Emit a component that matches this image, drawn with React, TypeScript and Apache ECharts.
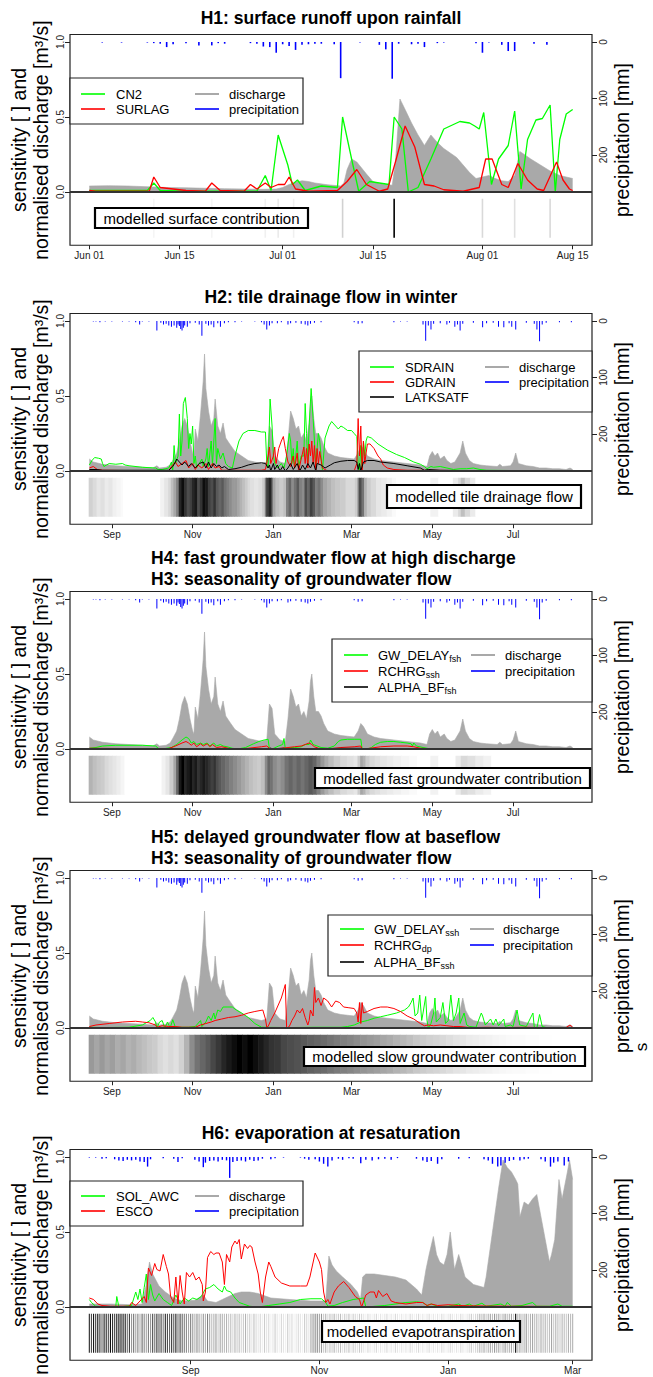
import React, { useEffect, useRef } from 'react';
import * as echarts from 'echarts';

// ===================== Panel 1 (x = days since 1 Jun) =====================
const p1Ticks = [0, 14, 30, 44, 61, 75];
const p1TickLabels = ['Jun 01', 'Jun 15', 'Jul 01', 'Jul 15', 'Aug 01', 'Aug 15'];
const p1Precip = [[2,1],[5,1],[9,1],[10,2],[11,3],[12,9],[13,4],[15,2],[17,6],[19,6],[20,2],[21,3],[25,2],[26,3],[27,8],[28,9],[29,19],[30,4],[31,7],[32,14],[33,5],[34,4],[35,3],[36,3],[38,4],[39,64],[42,1],[45,5],[46,13],[47,65],[48,3],[50,4],[51,3],[52,9],[54,2],[55,1],[60,2],[61,19],[62,1],[64,5],[65,16],[66,16],[69,3],[71,5]];
const p1Discharge = [[0,0.04],[3,0.042],[6,0.04],[9,0.035],[12,0.03],[15,0.028],[18,0.025],[21,0.022],[24,0.02],[27,0.018],[29,0.02],[30,0.03],[31,0.05],[32,0.065],[33,0.075],[34,0.07],[35,0.06],[37,0.048],[39,0.04],[39.5,0.06],[40,0.15],[40.7,0.22],[41.5,0.2],[43,0.12],[44,0.07],[45,0.055],[46,0.05],[47,0.045],[47.5,0.2],[48.2,0.62],[49,0.55],[50,0.46],[51,0.38],[52,0.31],[53,0.38],[54,0.33],[55,0.29],[56,0.26],[57,0.23],[58,0.18],[59,0.13],[60,0.09],[61,0.1],[62,0.11],[63,0.09],[64,0.075],[65,0.07],[66,0.11],[66.8,0.27],[67.5,0.25],[68.5,0.22],[70,0.18],[71.5,0.14],[73,0.11],[75,0.09]];
const p1CN2 = [[0,0.01],[9,0.01],[10,0.06],[11,0.01],[15,0.005],[20,0.005],[26,0.005],[27.3,0.11],[28.2,0.01],[29.3,0.38],[30.8,0.18],[31.5,0.05],[32.3,0.08],[33.5,0.01],[36,0.04],[38.5,0.03],[39.3,0.5],[40.8,0.2],[41.8,0.005],[43.5,0.07],[45,0.06],[46.5,0.05],[47.3,0.5],[48.5,0.42],[49.5,0.0],[51,0.03],[53,0.22],[55,0.42],[57.5,0.47],[59,0.46],[59.8,0.44],[60.5,0.42],[61.2,0.53],[62.4,0.05],[63.5,0.22],[65,0.31],[66,0.54],[67,0.02],[68,0.35],[69.3,0.48],[70.3,0.49],[71.5,0.58],[72.3,0.0],[73,0.35],[74,0.52],[75,0.55]];
const p1SURLAG = [[0,0.01],[1,0.005],[9.3,0.005],[10,0.1],[11,0.03],[13,0.02],[15,0.01],[18,0.005],[19,0.06],[20.3,0.01],[24,0.005],[25,0.05],[26,0.02],[27.3,0.06],[28.2,0.03],[29.3,0.05],[30.3,0.05],[31,0.1],[32,0.02],[34,0.005],[38.5,0.01],[40,0.07],[41.5,0.15],[43,0.05],[45,0.005],[46.3,0.02],[47.5,0.2],[49,0.44],[50.5,0.3],[52,0.05],[53.5,0.04],[55,0.015],[58,0.005],[60.5,0.03],[61.5,0.22],[62.5,0.22],[64,0.05],[65,0.03],[66.5,0.19],[68,0.08],[69.5,0.02],[70.5,0.01],[72.5,0.2],[73.5,0.08],[74.5,0.02],[75,0.01]];
const p1Band = [[10,0.04],[19,0.04],[27.3,0.06],[29.3,0.08],[31.7,0.06],[39.3,0.18],[47.3,1.0],[61,0.15],[66,0.12],[71.5,0.15]];

// ============ Panels 2-4 (x = days since 15 Aug, one hydrological year) ============
const yearTicks = [17, 78, 139, 198, 259, 320];
const yearTickLabels = ['Sep', 'Nov', 'Jan', 'Mar', 'May', 'Jul'];
const yearPrecip = [[3,1],[5,1],[8,2],[12,1],[17,1],[25,1],[30,1],[35,2],[38,6],[40,1],[45,1],[51,17],[54,3],[56,6],[58,5],[60,8],[62,10],[64,8],[66,12],[67,6],[68,9],[69,14],[70,17],[71,12],[72,8],[74,10],[76,4],[80,3],[83,6],[85,26],[88,5],[90,8],[92,6],[94,11],[97,4],[99,10],[102,4],[105,2],[110,2],[115,1],[125,1],[130,2],[132,6],[134,15],[136,8],[138,4],[142,4],[145,2],[150,6],[152,4],[156,3],[160,5],[163,6],[165,8],[167,5],[170,3],[175,2],[200,2],[203,5],[206,4],[230,2],[235,1],[240,1],[252,6],[254,35],[256,8],[258,15],[260,5],[265,4],[270,6],[272,3],[276,10],[278,6],[280,17],[282,5],[290,3],[297,11],[300,4],[305,3],[309,10],[313,11],[317,4],[319,10],[322,15],[330,3],[336,5],[338,15],[340,36],[342,6],[345,3],[355,2],[364,2]];
const yearDischarge = [[0,0.08],[3,0.06],[10,0.045],[20,0.035],[30,0.03],[40,0.025],[48,0.02],[51,0.035],[53,0.02],[58,0.025],[61,0.04],[63,0.07],[66,0.12],[68,0.2],[70,0.3],[72,0.35],[74,0.3],[76,0.2],[78,0.12],[79,0.1],[80,0.28],[82,0.2],[84,0.38],[86,0.6],[87,0.78],[88,0.55],[90,0.4],[92,0.3],[94,0.35],[95,0.48],[97,0.3],[99,0.25],[101,0.32],[103,0.22],[106,0.18],[110,0.13],[115,0.1],[120,0.07],[125,0.06],[130,0.05],[134,0.06],[136,0.3],[138,0.27],[140,0.1],[144,0.06],[148,0.05],[150,0.2],[152,0.4],[154,0.35],[156,0.28],[158,0.3],[160,0.22],[162,0.25],[164,0.2],[166,0.32],[167,0.45],[168,0.5],[169.5,0.35],[171,0.25],[173,0.25],[175,0.22],[177,0.17],[180,0.12],[185,0.1],[190,0.09],[195,0.085],[200,0.08],[203,0.12],[205,0.17],[207,0.15],[210,0.1],[215,0.08],[220,0.07],[230,0.06],[240,0.05],[250,0.04],[255,0.03],[257,0.1],[259,0.13],[261,0.1],[263,0.12],[265,0.08],[268,0.1],[270,0.07],[273,0.05],[276,0.06],[280,0.12],[282,0.2],[284,0.12],[287,0.07],[290,0.05],[295,0.04],[300,0.035],[308,0.03],[310,0.045],[312,0.03],[318,0.035],[320,0.06],[322,0.12],[324,0.05],[330,0.035],[335,0.03],[340,0.02],[345,0.02],[350,0.015],[355,0.015],[360,0.01],[363,0.02],[365,0.01]];

const p2SDRAIN = [[0,0.04],[2,0.07],[4,0.09],[7,0.085],[9,0.08],[10,0.05],[11,0.03],[13,0.04],[15,0.05],[20,0.045],[25,0.05],[27,0.04],[30,0.035],[40,0.025],[50,0.02],[52,0.01],[55,0.01],[60,0.02],[62,0.06],[63,0.0],[64,0.17],[65,0.05],[67,0.1],[68,0.38],[69,0.1],[70,0.2],[71,0.45],[72.5,0.49],[74,0.35],[75,0.15],[76,0.25],[77,0.18],[78,0.3],[79,0.05],[80,0.1],[81,0.02],[83,0.05],[85,0.08],[86,0.03],[88,0.08],[89,0.15],[90,0.03],[92,0.2],[93,0.04],[95,0.35],[96,0.05],[97,0.15],[99,0.08],[101,0.12],[103,0.05],[105,0.03],[108,0.02],[110,0.1],[113,0.2],[116,0.25],[120,0.27],[125,0.27],[130,0.26],[133,0.26],[134,0.05],[135,0.02],[136.5,0.48],[138,0.3],[139,0.1],[140,0.05],[142,0.02],[145,0.05],[147,0.02],[149,0.1],[151,0.25],[152,0.2],[153,0.05],[154,0.15],[155,0.02],[157,0.2],[158,0.03],[160,0.1],[162,0.1],[163,0.45],[164,0.25],[165,0.05],[166,0.3],[167.5,0.55],[169,0.35],[170,0.2],[171,0.02],[172,0.15],[173,0.25],[174,0.2],[176,0.0],[178,0.22],[181,0.3],[183,0.33],[186,0.3],[188,0.28],[190,0.3],[192,0.29],[195,0.27],[198,0.27],[200,0.25],[202,0.23],[203,0.05],[204,0.0],[205,0.17],[206,0.02],[207,0.2],[208,0.1],[209,0.2],[210,0.23],[213,0.22],[218,0.18],[225,0.14],[232,0.11],[238,0.09],[245,0.06],[250,0.045],[253,0.03],[255,0.015],[258,0.03],[260,0.025],[265,0.03],[270,0.02],[275,0.01],[280,0.015],[285,0.015],[290,0.02],[295,0.01],[300,0.005],[320,0.003],[365,0.001]];
const p2GDRAIN = [[0,0.02],[3,0.03],[6,0.01],[10,0.005],[30,0.003],[60,0.003],[62,0.03],[65,0.06],[67,0.03],[70,0.05],[73,0.07],[75,0.02],[78,0.05],[80,0.01],[82,0.04],[85,0.02],[88,0.05],[90,0.01],[93,0.05],[95,0.02],[98,0.03],[100,0.005],[110,0.005],[130,0.005],[133,0.01],[135,0.1],[136,0.16],[137,0.05],[139,0.1],[140,0.16],[141,0.05],[143,0.15],[145,0.2],[146.5,0.23],[148,0.15],[150,0.06],[152,0.03],[154,0.1],[155,0.02],[157,0.12],[158,0.0],[160,0.08],[162,0.16],[163,0.05],[164,0.15],[165,0.02],[166,0.18],[167,0.1],[168,0.2],[169,0.05],[170,0.17],[171,0.0],[172,0.15],[173,0.05],[174,0.13],[176,0.02],[178,0.01],[180,0.0],[200,0.0],[202,0.05],[203,0.35],[204,0.1],[205,0.3],[206,0.0],[207,0.2],[208,0.05],[209,0.12],[210,0.18],[212,0.18],[215,0.15],[218,0.1],[220,0.08],[222,0.04],[225,0.02],[230,0.01],[240,0.005],[365,0.0]];
const p2LATKSATF = [[0,0.01],[5,0.01],[10,0.005],[60,0.005],[63,0.03],[65,0.06],[66,0.08],[68,0.06],[70,0.04],[72,0.06],[75,0.03],[77,0.05],[80,0.02],[83,0.05],[86,0.06],[88,0.02],[90,0.06],[92,0.02],[94,0.05],[96,0.03],[98,0.04],[100,0.02],[102,0.03],[105,0.01],[110,0.015],[115,0.025],[120,0.04],[125,0.05],[130,0.055],[133,0.05],[135,0.02],[136,0.04],[137,0.0],[139,0.05],[140,0.01],[142,0.04],[144,0.0],[146,0.03],[148,0.0],[150,0.02],[152,0.05],[154,0.01],[157,0.05],[159,0.0],[161,0.04],[163,0.01],[165,0.05],[167,0.02],[169,0.06],[171,0.0],[172,0.05],[175,0.04],[178,0.02],[182,0.04],[185,0.055],[190,0.065],[195,0.07],[200,0.07],[202,0.06],[203,0.01],[204,0.05],[205,0.0],[207,0.06],[210,0.07],[215,0.07],[220,0.06],[230,0.05],[240,0.035],[250,0.02],[253,0.005],[256,0.01],[265,0.005],[280,0.003],[365,0.0]];
const p2Band = [[0,0.18],[3,0.14],[6,0.1],[9,0.12],[12,0.08],[15,0.1],[18,0.06],[21,0.04],[24,0.02],[26,0],[54,0.05],[57,0.1],[60,0.15],[62,0.25],[64,0.35],[66,0.5],[68,0.85],[70,0.95],[72,0.8],[74,0.7],[76,0.75],[78,0.85],[80,0.9],[82,0.7],[84,0.8],[86,0.95],[88,0.9],[90,0.75],[92,0.7],[94,0.8],[96,0.65],[98,0.6],[100,0.65],[102,0.55],[104,0.5],[106,0.45],[108,0.4],[110,0.4],[112,0.35],[114,0.3],[116,0.25],[118,0.2],[120,0.15],[122,0.12],[125,0.1],[128,0.12],[131,0.2],[133,0.5],[134,0.75],[136,0.85],[138,0.6],[139,0.35],[141,0.25],[144,0.2],[147,0.25],[149,0.5],[151,0.6],[153,0.45],[155,0.55],[157,0.65],[159,0.5],[161,0.45],[163,0.7],[165,0.6],[167,0.75],[169,0.65],[171,0.5],[173,0.55],[175,0.45],[177,0.35],[180,0.3],[183,0.25],[186,0.22],[190,0.2],[194,0.15],[198,0.15],[201,0.2],[203,0.45],[204,0.7],[206,0.55],[208,0.3],[210,0.2],[213,0.15],[217,0.1],[221,0.08],[225,0.05],[229,0.02],[232,0],[258,0.05],[264,0],[275,0.08],[279,0.15],[281,0.25],[284,0.15],[288,0.08],[292,0]];

const p3GWDELAYfsh = [[0,0.005],[5,0.01],[10,0.02],[20,0.025],[30,0.025],[40,0.025],[50,0.02],[52,0.005],[55,0.0],[62,0.01],[66,0.03],[70,0.06],[73,0.08],[75,0.07],[77,0.04],[79,0.05],[81,0.03],[84,0.04],[86,0.03],[89,0.04],[91,0.02],[94,0.04],[96,0.02],[99,0.03],[101,0.02],[104,0.015],[108,0.005],[112,0.0],[118,0.01],[124,0.035],[128,0.05],[132,0.06],[135,0.065],[136,0.0],[138,0.0],[143,0.02],[146,0.03],[147,0.07],[148,0.0],[152,0.01],[155,0.01],[160,0.015],[163,0.03],[166,0.03],[167,0.06],[169,0.03],[172,0.02],[175,0.01],[180,0.005],[185,0.02],[188,0.05],[190,0.06],[195,0.065],[200,0.065],[205,0.065],[206,0.0],[210,0.0],[213,0.01],[216,0.03],[220,0.045],[225,0.05],[230,0.05],[235,0.045],[240,0.04],[243,0.035],[244,0.02],[245,0.04],[247,0.02],[252,0.01],[256,0.003],[260,0.0],[365,0.001]];
const p3RCHRGssh = [[0,0.005],[30,0.003],[60,0.003],[65,0.02],[70,0.04],[73,0.05],[75,0.04],[77,0.025],[79,0.04],[81,0.015],[84,0.035],[86,0.02],[89,0.035],[91,0.015],[93,0.03],[96,0.01],[100,0.015],[105,0.005],[110,0.0],[120,0.005],[130,0.015],[134,0.02],[136,0.005],[140,0.0],[145,0.005],[150,0.01],[155,0.015],[160,0.02],[163,0.03],[166,0.04],[168,0.03],[170,0.015],[173,0.005],[180,0.0],[185,0.005],[190,0.01],[200,0.015],[205,0.02],[206,0.0],[212,0.005],[220,0.015],[230,0.02],[240,0.02],[245,0.015],[250,0.005],[255,0.003],[365,0.002]];
const p3ALPHABFfsh = [[0,0.002],[60,0.002],[80,0.003],[136,0.002],[137,0.006],[138,0.002],[147,0.005],[148,0.002],[205,0.005],[206,0.002],[365,0.001]];
const p3Band = [[0,0.3],[3,0.25],[6,0.22],[9,0.2],[12,0.15],[15,0.12],[18,0.1],[21,0.07],[24,0.04],[27,0],[55,0.05],[58,0.1],[61,0.2],[64,0.35],[66,0.6],[68,0.9],[70,1.0],[72,0.85],[74,0.9],[76,0.95],[78,0.85],[80,0.9],[82,0.8],[84,0.85],[86,0.9],[88,0.85],[90,0.8],[92,0.75],[94,0.8],[96,0.7],[98,0.65],[100,0.6],[103,0.55],[106,0.5],[109,0.45],[112,0.4],[115,0.35],[118,0.3],[121,0.25],[124,0.22],[127,0.2],[130,0.25],[133,0.45],[135,0.6],[137,0.55],[139,0.45],[142,0.4],[145,0.45],[148,0.55],[151,0.6],[154,0.55],[157,0.6],[160,0.55],[163,0.6],[166,0.65],[169,0.6],[172,0.5],[175,0.4],[178,0.32],[181,0.26],[185,0.2],[190,0.15],[195,0.12],[200,0.1],[203,0.2],[205,0.35],[207,0.3],[209,0.2],[212,0.15],[216,0.12],[220,0.1],[225,0.08],[230,0.06],[236,0.04],[242,0.02],[248,0],[258,0.05],[264,0],[277,0.08],[281,0.15],[286,0.12],[292,0.08],[298,0.05],[304,0]];

const p4GWDELAYssh = [[0,0.005],[10,0.003],[30,0.005],[40,0.02],[46,0.05],[48,0.07],[50,0.04],[51,0.0],[53,0.04],[55,0.05],[57,0.0],[59,0.04],[61,0.0],[63,0.055],[65,0.005],[75,0.005],[80,0.01],[84,0.05],[85,0.01],[88,0.04],[90,0.08],[92,0.05],[94,0.1],[95,0.06],[97,0.12],[99,0.11],[101,0.14],[104,0.14],[108,0.14],[111,0.12],[115,0.1],[120,0.07],[125,0.03],[130,0.005],[150,0.003],[170,0.005],[190,0.005],[195,0.01],[200,0.02],[205,0.04],[210,0.05],[215,0.065],[220,0.075],[225,0.085],[232,0.1],[238,0.12],[241,0.14],[243,0.17],[244.5,0.2],[246,0.08],[248,0.1],[249.5,0.22],[251,0.05],[252,0.1],[254,0.21],[255,0.05],[256,0.0],[258,0.03],[260,0.1],[261,0.2],[262,0.04],[265,0.07],[267,0.17],[269,0.03],[271,0.05],[273,0.22],[275,0.05],[277,0.1],[279,0.2],[280,0.03],[283,0.1],[285,0.02],[287,0.01],[292,0.005],[296,0.1],[297,0.08],[299,0.02],[303,0.06],[305,0.02],[307,0.06],[309,0.015],[313,0.06],[314,0.01],[318,0.02],[320,0.01],[323,0.12],[325,0.02],[330,0.01],[335,0.1],[336,0.005],[338,0.0],[340,0.09],[342,0.01],[345,0.003],[365,0.002]];
const p4RCHRGdp = [[0,0.01],[5,0.02],[15,0.03],[25,0.04],[35,0.045],[40,0.04],[45,0.035],[50,0.02],[51,0.005],[55,0.015],[60,0.01],[65,0.01],[70,0.005],[80,0.005],[84,0.02],[88,0.03],[92,0.04],[95,0.05],[100,0.06],[105,0.07],[110,0.075],[115,0.085],[120,0.1],[125,0.11],[131,0.12],[133,0.06],[134,0.005],[135,0.01],[137,0.05],[140,0.1],[145,0.2],[148,0.29],[149,0.0],[151,0.01],[153,0.05],[155,0.08],[157,0.12],[159,0.1],[161,0.13],[163,0.07],[165,0.02],[166,0.05],[167,0.12],[169,0.08],[170,0.27],[171,0.17],[173,0.2],[175,0.15],[177,0.2],[180,0.18],[183,0.14],[186,0.18],[189,0.17],[192,0.14],[196,0.135],[200,0.13],[202,0.1],[203,0.04],[204,0.17],[205,0.03],[206,0.17],[207,0.1],[210,0.11],[215,0.13],[220,0.14],[225,0.14],[230,0.13],[235,0.11],[240,0.08],[245,0.06],[250,0.03],[253,0.015],[256,0.02],[260,0.015],[265,0.02],[270,0.015],[275,0.01],[280,0.01],[285,0.005],[290,0.003],[300,0.005],[310,0.003],[330,0.005],[340,0.003],[360,0.003],[363,0.02],[365,0.005]];
const p4ALPHABFssh = [[0,0.003],[100,0.003],[200,0.003],[300,0.003],[365,0.003]];
const p4Band = [[0,0.4],[4,0.35],[8,0.4],[12,0.35],[16,0.38],[20,0.32],[24,0.35],[28,0.3],[32,0.32],[36,0.28],[40,0.25],[44,0.22],[48,0.2],[52,0.15],[56,0.12],[60,0.15],[64,0.12],[68,0.18],[72,0.3],[76,0.45],[80,0.55],[84,0.6],[88,0.65],[92,0.72],[96,0.78],[100,0.85],[104,0.9],[108,0.95],[112,1.0],[116,0.95],[120,1.0],[124,0.95],[128,0.9],[132,0.85],[136,0.8],[140,0.78],[145,0.72],[150,0.7],[155,0.68],[160,0.65],[165,0.62],[170,0.6],[175,0.58],[180,0.55],[185,0.52],[190,0.5],[195,0.48],[200,0.45],[205,0.42],[210,0.4],[215,0.38],[220,0.35],[225,0.33],[230,0.3],[235,0.28],[240,0.25],[245,0.22],[250,0.2],[255,0.18],[260,0.17],[265,0.15],[270,0.13],[275,0.11],[280,0.1],[285,0.08],[290,0.07],[295,0.06],[300,0.05],[305,0.04],[310,0.03],[315,0.025],[320,0.02],[330,0.01],[340,0.005],[350,0]];

// ===================== Panel 5 (x = days since 15 Jul) =====================
const p5Ticks = [48, 109, 170, 229];
const p5TickLabels = ['Sep', 'Nov', 'Jan', 'Mar'];
const p5Precip = [[0,1],[3,1],[6,3],[8,2],[12,4],[14,6],[16,7],[18,5],[20,6],[22,5],[24,8],[26,9],[27.6,17],[29,4],[35,2],[40,3],[42,9],[44,2],[50,5],[52,8],[54,18],[55,10],[57,7],[59,6],[61,8],[63,5],[65,6],[66.5,37],[68,9],[70,7],[72,6],[74,8],[76,5],[78,7],[80,6],[82,3],[86,4],[88,2],[92,1],[100,1],[102,3],[104,5],[107,4],[109,8],[111,12],[113,17],[115,6],[118,3],[120,5],[123,2],[125,3],[128.6,11],[131,5],[134,6],[137,4],[140,3],[143,5],[146,2],[155,3],[158,6],[160,9],[162,7],[165,12],[167,4],[175,3],[180,2],[187,4],[189,6],[191,12],[193.5,17],[195,15],[197,10],[199,7],[201,5],[204,6],[206,4],[208,3],[214,4],[216,8],[218.5,17],[220,10],[222,8],[225,15],[227,8]];
const p5Discharge = [[0,0.02],[10,0.02],[20,0.015],[25,0.02],[27,0.15],[28.5,0.3],[30,0.22],[33,0.14],[36,0.1],[40,0.06],[44,0.04],[50,0.045],[54,0.08],[56,0.04],[60,0.03],[63,0.05],[66,0.07],[69,0.09],[72,0.1],[76,0.1],[80,0.09],[86,0.06],[95,0.05],[105,0.04],[112,0.04],[113.5,0.34],[115,0.28],[117,0.24],[120,0.2],[124,0.15],[127,0.1],[128.5,0.05],[129.5,0.2],[131,0.22],[135,0.22],[140,0.21],[145,0.2],[150,0.18],[155,0.12],[157.5,0.08],[159.5,0.25],[161,0.35],[163,0.47],[164.5,0.35],[166,0.3],[168,0.28],[169.5,0.35],[171,0.5],[173,0.25],[175,0.35],[178,0.2],[182,0.15],[187,0.13],[188,0.2],[190,0.4],[192,0.6],[194,0.8],[196,0.98],[198,0.93],[200,0.9],[202,0.85],[203,0.82],[204,0.6],[206,0.7],[208,0.68],[210,0.72],[212,0.75],[214,0.6],[216,0.45],[218,0.3],[219,0.35],[220.5,0.45],[222.5,0.85],[224,0.72],[226.5,0.9],[227.5,0.98],[229,0.85]];
const p5SOLAWC = [[0,0.05],[1,0.03],[3,0.005],[10,0.0],[12.5,0.0],[13,0.07],[14,0.0],[20,0.01],[22,0.1],[23,0.05],[24,0.12],[25,0.03],[26,0.13],[27,0.22],[28,0.05],[29,0.15],[30,0.08],[31,0.04],[33,0.09],[35,0.05],[37,0.03],[39,0.01],[41,0.08],[43,0.02],[45,0.06],[47,0.04],[49,0.06],[51,0.05],[53,0.07],[55,0.12],[57,0.13],[59,0.15],[61,0.12],[63,0.1],[64,0.14],[65,0.11],[67,0.1],[69,0.06],[71,0.03],[73,0.02],[76,0.005],[80,0.0],[85,0.01],[90,0.02],[95,0.03],[100,0.05],[105,0.055],[110,0.055],[112,0.03],[113,0.005],[116,0.01],[120,0.03],[125,0.05],[130,0.06],[131,0.0],[140,0.01],[150,0.03],[155,0.035],[158,0.03],[160,0.01],[162,0.02],[165,0.005],[170,0.005],[175,0.02],[177,0.005],[180,0.02],[182,0.005],[186,0.025],[188,0.005],[195,0.02],[197,0.005],[198,0.03],[200,0.005],[205,0.01],[210,0.03],[212,0.005],[218,0.005],[222,0.02],[224,0.005],[229,0.005]];
const p5ESCO = [[0,0.06],[2,0.05],[4,0.02],[6,0.01],[10,0.005],[19,0.005],[20,0.03],[22,0.01],[24,0.04],[26,0.07],[27,0.03],[28,0.26],[29.5,0.21],[31,0.29],[32,0.25],[33.5,0.24],[35,0.35],[36.5,0.27],[37.5,0.22],[38.5,0.07],[40,0.03],[41,0.2],[42,0.02],[43,0.21],[44,0.1],[45,0.02],[46,0.23],[47.5,0.2],[49,0.23],[50.5,0.18],[52,0.2],[53.5,0.15],[54,0.04],[55,0.1],[56,0.33],[57.5,0.37],[59,0.35],[60,0.36],[61.5,0.36],[63,0.3],[64,0.15],[65,0.35],[66.5,0.3],[67.5,0.4],[69,0.44],[70,0.42],[71,0.45],[72,0.32],[73.5,0.42],[75,0.39],[76,0.41],[77,0.4],[78.5,0.3],[80,0.22],[81,0.1],[82,0.03],[83.5,0.2],[85,0.3],[86,0.27],[88,0.2],[91,0.16],[95,0.14],[100,0.14],[103,0.14],[104.5,0.2],[107,0.36],[109,0.3],[110,0.25],[111,0.1],[112,0.03],[113,0.05],[114,0.02],[116,0.1],[118,0.14],[120.5,0.17],[123,0.13],[126,0.07],[128,0.05],[129,0.0],[131,0.08],[133,0.1],[135,0.1],[136,0.06],[137,0.11],[139,0.07],[141,0.09],[143,0.04],[145,0.03],[150,0.02],[155,0.03],[158,0.03],[160,0.01],[162,0.02],[165,0.01],[170,0.015],[175,0.01],[180,0.008],[190,0.006],[200,0.005],[215,0.004],[229,0.003]];
// modelled evapotranspiration: one grey level per day (day 0 .. 229)
const p5BandDaily = [
  0.85,0.7,0.9,0.75,0.95,0.8,0.6,0.9,0.85,0.7,0.95,0.8,0.75,0.9,0.95,0.95,0.9,0.9,0.55,0.75,
  0.4,0.55,0.35,0.5,0.3,0.6,0.45,0.35,0.5,0.4,
  0.7,0.55,0.8,0.65,0.75,0.5,0.85,0.7,0.6,0.8,0.65,0.9,0.55,0.75,0.6,0.5,
  0.45,0.35,0.5,0.4,0.3,0.45,0.35,0.25,0.4,0.3,0.5,0.35,0.25,0.3,0.4,0.2,0.35,0.3,0.25,
  0.3,0.2,0.25,0.15,0.3,0.2,0.25,0.15,0.2,0.3,0.15,0.2,0.1,0.25,0.15,
  0.1,0.15,0.05,0.2,0.1,0.15,0.05,0.1,0.2,0.1,0.05,0.15,0.1,0.05,0.2,0.1,0.15,0.05,0.1,0.15,0.1,0.05,0.2,0.15,0.1,0.35,0.4,0.45,
  0.45,0.35,0.4,0.2,0.3,0.15,0.25,0.2,0.3,0.15,0.2,0.25,0.1,0.2,0.15,0.25,0.1,0.2,0.15,0.1,0.2,0.15,
  0.1,0.05,0.15,0.1,0.05,0.1,0.15,0.05,0.1,0.05,0.1,0.15,0.05,0.1,0.05,0.15,0.1,0.05,0.1,0.05,0.1,0.05,0.15,0.1,0.05,0.1,0.15,0.05,0.1,0.05,0.1,0.15,0.05,0.1,0.05,0.1,0.05,0.15,0.1,0.05,0.1,0.15,0.1,0.05,0.1,0.05,0.15,0.1,0.05,0.1,0.15,0.2,0.1,0.15,0.2,
  0.3,0.25,0.35,0.2,0.3,0.35,0.25,0.4,0.3,0.35,0.2,0.3,0.4,0.25,0.3,0.35,0.2,1.0,
  0.3,
  0.35,0.25,0.3,0.4,0.2,0.3,0.35,0.25,0.3,0.2,0.35,0.25,0.3,0.2,0.25,0.35,0.2,0.3,0.25,0.2,0.3,0.25,0.2,0.3,0.25,0.3
];

// ===================== styling / layout =====================
const FONT = '"Liberation Sans", Arial, Helvetica, sans-serif';
const GREEN = '#00ff00', RED = '#ff0000', BLACK = '#000000', GREY = '#a9a9a9', BLUE = '#0000ff';
const YMIN = -0.355, YMAX = 1.05, UNIT = 150, PX_PER_MM = 0.565;
const PMIN = -((YMAX - 1) * UNIT) / PX_PER_MM, PMAX = ((1 - YMIN) * UNIT) / PX_PER_MM;
const BAND_TOP = -0.045, BAND_BOT = -0.305;
const GRID_LEFT = 70, GRID_W = 522;

let measureCtx: any = null;
function textWidth(t: string, size: number) {
  if (!measureCtx) measureCtx = document.createElement('canvas').getContext('2d');
  measureCtx.font = `${size}px ${FONT}`;
  return measureCtx.measureText(t).width;
}

function toRuns(points: number[][], end: number) {
  return points.map((p, i) => [p[0] - 0.5, i + 1 < points.length ? points[i + 1][0] - 0.5 : end, p[1]]);
}

const yearLegendCol2 = [{ label: 'discharge', color: GREY, w: 2 }, { label: 'precipitation', color: BLUE, w: 1.6 }];

const panels: any[] = [
  {
    y0: 42, xMin: -3, xMax: 78, ticks: p1Ticks, tickLabels: p1TickLabels,
    precip: p1Precip, barWidth: 1.6, discharge: p1Discharge, lineWidth: 1.3,
    lines: [{ name: 'CN2', data: p1CN2, color: GREEN }, { name: 'SURLAG', data: p1SURLAG, color: RED }],
    band: { kind: 'lines', data: p1Band, width: 1.6 },
    title: ['H1: surface runoff upon rainfall'], titleAlign: 'center',
    legend: { x: 70, top: 36, w: 233, h: 46, rows: [52, 67], cols: [
      { lx: 81, tx: 116, items: [{ label: 'CN2', color: GREEN, w: 1.6 }, { label: 'SURLAG', color: RED, w: 1.6 }] },
      { lx: 195, tx: 229, items: yearLegendCol2 }] },
    note: { x: 95, top: 166, w: 213, h: 20, text: 'modelled surface contribution' },
  },
  {
    y0: 321, xMin: -14.6, xMax: 379.6, ticks: yearTicks, tickLabels: yearTickLabels,
    precip: yearPrecip, barWidth: 1, discharge: yearDischarge, lineWidth: 1,
    lines: [{ name: 'SDRAIN', data: p2SDRAIN, color: GREEN }, { name: 'GDRAIN', data: p2GDRAIN, color: RED }, { name: 'LATKSATF', data: p2LATKSATF, color: BLACK }],
    band: { kind: 'runs', data: toRuns(p2Band, 365.5) },
    title: ['H2: tile drainage flow in winter'], titleAlign: 'center',
    legend: { x: 359, top: 30, w: 233, h: 61, rows: [46, 61, 76], cols: [
      { lx: 370, tx: 405, items: [{ label: 'SDRAIN', color: GREEN, w: 1.6 }, { label: 'GDRAIN', color: RED, w: 1.6 }, { label: 'LATKSATF', color: BLACK, w: 1.6 }] },
      { lx: 485, tx: 519, items: yearLegendCol2 }] },
    note: { x: 387, top: 164, w: 194, h: 23, text: 'modelled tile drainage flow' },
  },
  {
    y0: 599, xMin: -14.6, xMax: 379.6, ticks: yearTicks, tickLabels: yearTickLabels,
    precip: yearPrecip, barWidth: 1, discharge: yearDischarge, lineWidth: 1,
    lines: [{ name: 'GW_DELAY fsh', data: p3GWDELAYfsh, color: GREEN }, { name: 'RCHRG ssh', data: p3RCHRGssh, color: RED }, { name: 'ALPHA_BF fsh', data: p3ALPHABFfsh, color: BLACK }],
    band: { kind: 'runs', data: toRuns(p3Band, 365.5) },
    title: ['H4: fast groundwater flow at high discharge', 'H3: seasonality of groundwater flow'], titleAlign: 'left',
    legend: { x: 332, top: 40, w: 260, h: 63, rows: [56, 72, 88], cols: [
      { lx: 344, tx: 378, items: [{ label: 'GW_DELAY', sub: 'fsh', color: GREEN, w: 1.6 }, { label: 'RCHRG', sub: 'ssh', color: RED, w: 1.6 }, { label: 'ALPHA_BF', sub: 'fsh', color: BLACK, w: 1.6 }] },
      { lx: 471, tx: 505, items: yearLegendCol2 }] },
    note: { x: 315, top: 169, w: 275, h: 20, text: 'modelled fast groundwater contribution' },
  },
  {
    y0: 878, xMin: -14.6, xMax: 379.6, ticks: yearTicks, tickLabels: yearTickLabels,
    precip: yearPrecip, barWidth: 1, discharge: yearDischarge, lineWidth: 1,
    lines: [{ name: 'GW_DELAY ssh', data: p4GWDELAYssh, color: GREEN }, { name: 'RCHRG dp', data: p4RCHRGdp, color: RED }, { name: 'ALPHA_BF ssh', data: p4ALPHABFssh, color: BLACK }],
    band: { kind: 'runs', data: toRuns(p4Band, 365.5) },
    title: ['H5: delayed groundwater flow at baseflow', 'H3: seasonality of groundwater flow'], titleAlign: 'left',
    legend: { x: 328, top: 37, w: 264, h: 61, rows: [51, 67, 84], cols: [
      { lx: 340, tx: 374, items: [{ label: 'GW_DELAY', sub: 'ssh', color: GREEN, w: 1.6 }, { label: 'RCHRG', sub: 'dp', color: RED, w: 1.6 }, { label: 'ALPHA_BF', sub: 'ssh', color: BLACK, w: 1.6 }] },
      { lx: 470, tx: 503, items: yearLegendCol2 }] },
    note: { x: 304, top: 169, w: 281, h: 19, text: 'modelled slow groundwater contribution' },
  },
  {
    y0: 1157, xMin: -9.16, xMax: 238.16, ticks: p5Ticks, tickLabels: p5TickLabels,
    precip: p5Precip, barWidth: 1.4, discharge: p5Discharge, lineWidth: 1,
    lines: [{ name: 'SOL_AWC', data: p5SOLAWC, color: GREEN }, { name: 'ESCO', data: p5ESCO, color: RED }],
    band: { kind: 'lines', data: p5BandDaily.map((g, d) => [d, g]), width: 1.1 },
    title: ['H6: evaporation at resaturation'], titleAlign: 'center',
    legend: { x: 70, top: 24, w: 233, h: 45, rows: [39, 54], cols: [
      { lx: 81, tx: 116, items: [{ label: 'SOL_AWC', color: GREEN, w: 1.6 }, { label: 'ESCO', color: RED, w: 1.6 }] },
      { lx: 195, tx: 229, items: yearLegendCol2 }] },
    note: { x: 322, top: 164, w: 198, h: 21, text: 'modelled evapotranspiration' },
  },
];

function grey(g: number) {
  const c = Math.round(255 * (1 - Math.max(0, Math.min(1, g))));
  return `rgb(${c},${c},${c})`;
}

function buildOption() {
  const grid: any[] = [], xAxis: any[] = [], yAxis: any[] = [], series: any[] = [], graphic: any[] = [];
  const txt = (x: number, y: number, text: string, size: number, extra: any = {}, rot = 0) => ({
    type: 'text', x, y, rotation: rot, z: 100,
    style: { text, fontSize: size, fontFamily: FONT, fill: '#000', align: 'center', verticalAlign: 'middle', ...extra },
  });

  panels.forEach((p, i) => {
    const top = p.y0 - (YMAX - 1) * UNIT;
    const height = (YMAX - YMIN) * UNIT;
    grid.push({ left: GRID_LEFT, top, width: GRID_W, height, show: true, borderColor: '#222', borderWidth: 1.2, backgroundColor: 'transparent', containLabel: false, outerBoundsMode: 'none' });
    const ticks = p.ticks, labels = p.tickLabels;
    xAxis.push({
      type: 'value', gridIndex: i, min: p.xMin, max: p.xMax, position: 'bottom',
      axisLine: { show: false, onZero: false }, splitLine: { show: false },
      axisTick: { show: true, customValues: ticks, length: 4, lineStyle: { color: '#222' } },
      axisLabel: {
        customValues: ticks, fontSize: 10, color: '#222', margin: 5, fontFamily: FONT,
        formatter: (v: number) => { let k = 0; ticks.forEach((t: number, j: number) => { if (Math.abs(t - v) < Math.abs(ticks[k] - v)) k = j; }); return labels[k]; },
      },
    });
    yAxis.push({
      type: 'value', gridIndex: i, position: 'left', min: YMIN, max: YMAX,
      axisLine: { show: false, onZero: false }, splitLine: { show: false },
      axisTick: { show: true, customValues: [0, 0.5, 1], length: 5, lineStyle: { color: '#222' } },
      axisLabel: { customValues: [0, 0.5, 1], rotate: 90, fontSize: 10, color: '#222', margin: 5, fontFamily: FONT, formatter: (v: number) => v.toFixed(1) },
    });
    yAxis.push({
      type: 'value', gridIndex: i, position: 'right', inverse: true, min: PMIN, max: PMAX,
      axisLine: { show: false, onZero: false }, splitLine: { show: false },
      axisTick: { show: true, customValues: [0, 100, 200], length: 5, lineStyle: { color: '#222' } },
      axisLabel: { customValues: [0, 100, 200], rotate: 90, fontSize: 10, color: '#222', margin: 6, fontFamily: FONT, formatter: (v: number) => String(Math.round(v)) },
    });

    // discharge (grey polygon) + the zero line
    series.push({
      type: 'line', xAxisIndex: i, yAxisIndex: 2 * i, data: p.discharge, showSymbol: false, silent: true, z: 1,
      lineStyle: { color: GREY, width: 0.6 }, areaStyle: { color: GREY, opacity: 1 }, itemStyle: { color: GREY },
      markLine: { silent: true, symbol: ['none', 'none'], label: { show: false }, z: 6,
        lineStyle: { color: '#333', width: 1.8, type: 'solid' }, data: [{ yAxis: 0 }] },
    });
    // modelled contribution band
    const band = p.band;
    series.push({
      type: 'custom', xAxisIndex: i, yAxisIndex: 2 * i, data: band.data, silent: true, z: 1,
      encode: band.kind === 'runs' ? { x: [0, 1], y: 2 } : { x: 0, y: 1 },
      renderItem: (params: any, api: any) => {
        if (band.kind === 'runs') {
          const a = api.coord([api.value(0), BAND_TOP]);
          const b = api.coord([api.value(1), BAND_BOT]);
          return { type: 'rect', shape: { x: a[0], y: a[1], width: Math.max(b[0] - a[0] + 0.6, 0.6), height: b[1] - a[1] }, style: { fill: grey(api.value(2)) } };
        }
        const a = api.coord([api.value(0), BAND_TOP]);
        const b = api.coord([api.value(0), BAND_BOT]);
        return { type: 'rect', shape: { x: a[0] - band.width / 2, y: a[1], width: band.width, height: b[1] - a[1] }, style: { fill: grey(api.value(1)) } };
      },
    });
    // sensitivity lines
    p.lines.forEach((ln: any) => {
      series.push({
        type: 'line', name: ln.name, xAxisIndex: i, yAxisIndex: 2 * i, data: ln.data, showSymbol: false, silent: true, z: 3,
        lineStyle: { color: ln.color, width: p.lineWidth }, itemStyle: { color: ln.color },
      });
    });
    // precipitation bars (hanging from the top)
    series.push({
      type: 'bar', xAxisIndex: i, yAxisIndex: 2 * i + 1, data: p.precip, barWidth: p.barWidth, silent: true, z: 4,
      itemStyle: { color: BLUE },
    });

    // ---- texts ----
    if (p.titleAlign === 'center') {
      graphic.push(txt(GRID_LEFT + GRID_W / 2, p.y0 - 24, p.title[0], 17.5, { fontWeight: 'bold' }));
    } else {
      graphic.push(txt(151, p.y0 - 41, p.title[0], 17.5, { fontWeight: 'bold', align: 'left' }));
      graphic.push(txt(151, p.y0 - 20, p.title[1], 17.5, { fontWeight: 'bold', align: 'left' }));
    }
    graphic.push(txt(19, p.y0 + 98, 'sensitivity [ ] and', 19.5, {}, Math.PI / 2));
    graphic.push(txt(41, p.y0 + 98, 'normalised discharge [m³/s]', 19.5, {}, Math.PI / 2));
    graphic.push(txt(622, p.y0 + 98, 'precipitation [mm]', 19.5, {}, Math.PI / 2));

    // legend
    const lg = p.legend;
    graphic.push({ type: 'rect', z: 100, shape: { x: lg.x, y: p.y0 + lg.top, width: lg.w, height: lg.h }, style: { fill: '#fff', stroke: '#222', lineWidth: 1.2 } });
    lg.cols.forEach((col: any) => col.items.forEach((it: any, r: number) => {
      const y = p.y0 + lg.rows[r];
      graphic.push({ type: 'line', z: 101, shape: { x1: col.lx, y1: y, x2: col.lx + 24, y2: y }, style: { stroke: it.color, lineWidth: it.w } });
      graphic.push(txt(col.tx, y, it.label, 13, { align: 'left' }));
      if (it.sub) graphic.push(txt(col.tx + textWidth(it.label, 13), y + 4, it.sub, 9, { align: 'left' }));
    }));

    // annotation box
    const nt = p.note;
    graphic.push({ type: 'rect', z: 100, shape: { x: nt.x, y: p.y0 + nt.top, width: nt.w, height: nt.h }, style: { fill: '#fff', stroke: '#000', lineWidth: 2.2 } });
    graphic.push(txt(nt.x + nt.w / 2, p.y0 + nt.top + nt.h / 2, nt.text, 15));
  });

  graphic.push({ type: 'text', x: 641, y: 1047, rotation: Math.PI / 2, z: 100, style: { text: 's', fontSize: 17, fontFamily: FONT, fill: '#000', align: 'center', verticalAlign: 'middle' } });

  return { animation: false, backgroundColor: '#fff', grid, xAxis, yAxis, series, graphic };
}

export default function App() {
  const ref = useRef<HTMLDivElement>(null);
  useEffect(() => {
    if (!ref.current) return;
    const chart = echarts.init(ref.current, undefined, { renderer: 'svg' });
    chart.setOption(buildOption() as any);
    return () => chart.dispose();
  }, []);
  return <div ref={ref} style={{ position: 'absolute', left: 0, top: 0, width: 653, height: 1377, background: '#fff' }} />;
}
